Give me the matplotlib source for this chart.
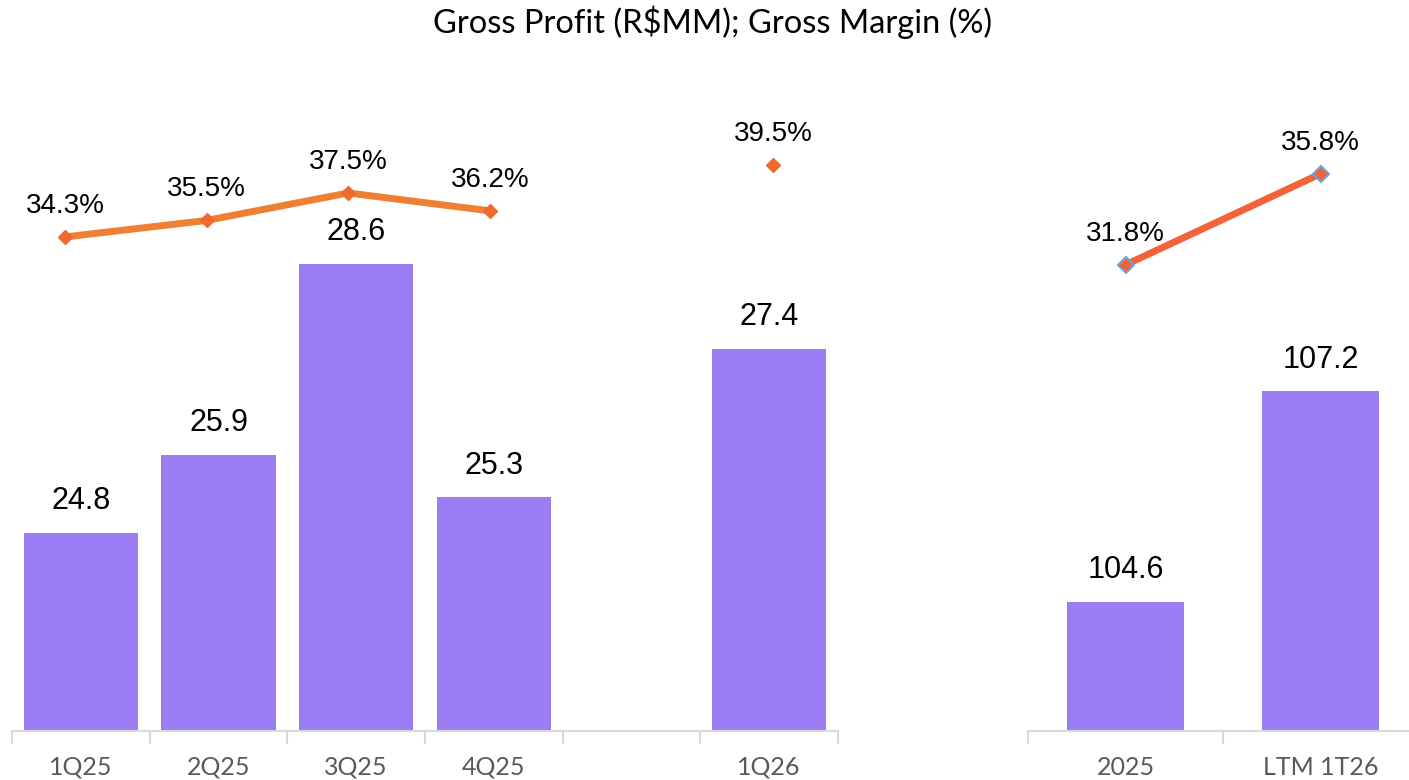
import numpy as np
import matplotlib
matplotlib.use("Agg")
import matplotlib.pyplot as plt

quarters = ["1Q25", "2Q25", "3Q25", "4Q25", "", "1Q26"]
gross_profit_q = [24.8, 25.9, 28.6, 25.3, np.nan, 27.4]
margin_q = [34.3, 35.5, 37.5, 36.2, np.nan, 39.5]

years = ["2025", "LTM 1T26"]
gross_profit_y = [104.6, 107.2]
margin_y = [31.8, 35.8]

BAR = "#9B7EF3"
LINE_Q = "#EF7F33"
MARK_Q = "#F0692F"
LINE_Y = "#F4623A"
EDGE_Y = "#6FA3DA"
AXIS = "#D9D9D9"
TICK_TXT = "#595959"

W, H = 1409, 780
fig = plt.figure(figsize=(W / 100, H / 100), dpi=100)


def px(x0, x1, y_top=60, y_bot=731):
    return [x0 / W, 1 - y_bot / H, (x1 - x0) / W, (y_bot - y_top) / H]


def style_bar_axes(ax, labels, n):
    for s in ["top", "right", "left"]:
        ax.spines[s].set_visible(False)
    ax.spines["bottom"].set_color(AXIS)
    ax.spines["bottom"].set_linewidth(1.5)
    ax.set_yticks([])
    ax.set_xticks(range(n))
    ax.set_xticklabels(labels, fontsize=18, color=TICK_TXT, family="Lato")
    ax.tick_params(axis="x", which="major", length=0, pad=18)
    ax.set_xticks(np.arange(n + 1) - 0.5, minor=True)
    ax.tick_params(axis="x", which="minor", length=9, width=1.5, color=AXIS)
    ax.set_xlim(-0.5, n - 0.5)
    ax.patch.set_alpha(0)


# left panel: quarters
ax1 = fig.add_axes(px(12, 838))
xq = np.arange(len(quarters))
ax1.bar(xq, gross_profit_q, width=0.83, color=BAR)
ax1.set_ylim(22.0, 31.48)
style_bar_axes(ax1, quarters, len(quarters))
for x, v in zip(xq, gross_profit_q):
    if not np.isnan(v):
        ax1.annotate(f"{v:.1f}", (x, v), xytext=(0, 12), textcoords="offset points",
                     ha="center", va="bottom", fontsize=22, family="Liberation Sans")

axl = fig.add_axes(px(12, 838))
axl.axis("off")
axl.plot(xq, margin_q, color=LINE_Q, lw=5, marker="D", ms=7,
         mfc=MARK_Q, mec=MARK_Q, solid_capstyle="round")
axl.set_xlim(-0.374, 5.459)
axl.set_ylim(-1.63, 47.17)
for x, v in zip(xq, margin_q):
    if not np.isnan(v):
        axl.annotate(f"{v:.1f}%", (x, v), xytext=(0, 13), textcoords="offset points",
                     ha="center", va="bottom", fontsize=20, family="Liberation Sans")

# right panel: annual
ax2 = fig.add_axes(px(1028, 1418))
xy = np.arange(len(years))
ax2.bar(xy, gross_profit_y, width=0.605, color=BAR)
ax2.set_ylim(103.0, 111.3)
style_bar_axes(ax2, years, len(years))
for x, v in zip(xy, gross_profit_y):
    ax2.annotate(f"{v:.1f}", (x, v), xytext=(0, 12), textcoords="offset points",
                 ha="center", va="bottom", fontsize=22, family="Liberation Sans")

axr = fig.add_axes(px(1028, 1418))
axr.axis("off")
axr.plot(xy, margin_y, color=LINE_Y, lw=5, marker="D", ms=8,
         mfc=LINE_Y, mec=EDGE_Y, mew=1.5, solid_capstyle="round")
axr.set_xlim(-0.5, 1.5)
axr.set_ylim(11.32, 40.8)
for x, v in zip(xy, margin_y):
    axr.annotate(f"{v:.1f}%", (x, v), xytext=(0, 13), textcoords="offset points",
                 ha="center", va="bottom", fontsize=20, family="Liberation Sans")

fig.text(713 / W, 1 - 22 / H, r"Gross Profit (R\$MM); Gross Margin (%)",
         ha="center", va="center", fontsize=23.5, family="Lato")

fig.savefig("out.png", dpi=100)
